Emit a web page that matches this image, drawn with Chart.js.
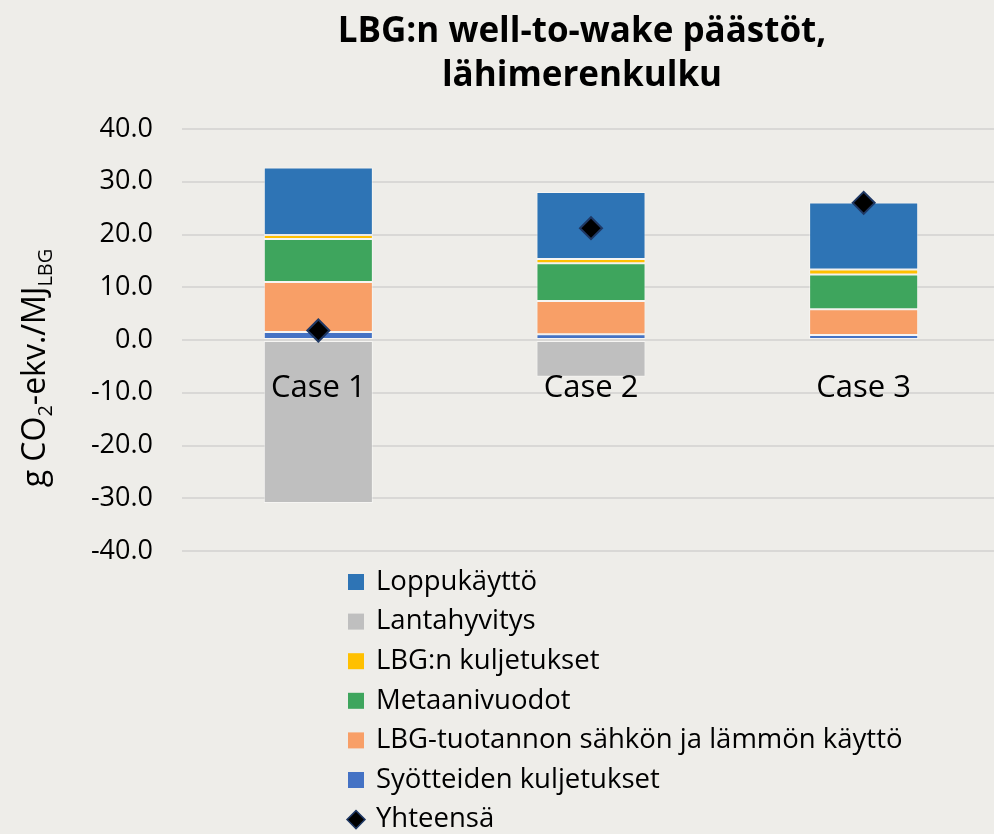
<!DOCTYPE html>
<html>
<head>
<meta charset="utf-8">
<script src="https://cdn.jsdelivr.net/npm/chart.js@4"></script>
<style>
  html, body { margin: 0; padding: 0; background: #eeede9; overflow: hidden; }
  #wrap { width: 994px; height: 834px; overflow: hidden; }
</style>
</head>
<body>
<div id="wrap"><canvas id="myChart" width="1000" height="834"></canvas></div>
<script>
const cases = ["Case 1", "Case 2", "Case 3"];
const syotteidenKuljetukset = [1.5, 1.1, 0.95];
const tuotannonEnergia = [9.5, 6.3, 4.9];
const metaanivuodot = [8.15, 7.15, 6.55];
const lbgKuljetukset = [0.75, 0.8, 0.95];
const lantahyvitys = [-30.9, -6.95, 0];
const loppukaytto = [12.8, 12.7, 12.7];
const yhteensa = [1.8, 21.2, 26.0];
const yTicks = [-40, -30, -20, -10, 0, 10, 20, 30, 40];

const FONT = '"Open Sans", Lato, sans-serif';
const legendOrder = [5, 4, 3, 2, 1, 0, 6];

const bg = {
    id: 'bg',
    beforeDraw(chart) {
        const c = chart.ctx;
        c.save();
        c.fillStyle = '#eeede9';
        c.fillRect(0, 0, chart.width, chart.height);
        c.restore();
    }
};

const extras = {
    id: 'extras',
    afterDraw(chart) {
        const c = chart.ctx;
        const x = chart.scales.x, y = chart.scales.y;
        c.save();
        c.fillStyle = '#000';

        // title
        c.font = 'bold 35px ' + FONT;
        c.textAlign = 'center';
        c.textBaseline = 'middle';
        c.fillText('LBG:n well-to-wake päästöt,', 582, 32);
        c.fillText('lähimerenkulku', 582, 76);

        // category labels near zero line
        c.font = '31px ' + FONT;
        cases.forEach((lab, i) => {
            c.fillText(lab, x.getPixelForValue(i), y.getPixelForValue(0) + 48);
        });

        // y axis title with subscripts
        c.save();
        c.translate(45, 368);
        c.rotate(-Math.PI / 2);
        c.textBaseline = 'alphabetic';
        c.textAlign = 'left';
        const big = '32px ' + FONT, small = '20px ' + FONT;
        const parts = [['g CO', big, 0], ['2', small, 7], ['-ekv./MJ', big, 0], ['LBG', small, 7]];
        let w = 0;
        parts.forEach(p => { c.font = p[1]; w += c.measureText(p[0]).width; });
        let px = -w / 2;
        parts.forEach(p => {
            c.font = p[1];
            c.fillText(p[0], px, p[2]);
            px += c.measureText(p[0]).width;
        });
        c.restore();

        // legend
        c.font = '27.5px ' + FONT;
        c.textAlign = 'left';
        c.textBaseline = 'middle';
        legendOrder.forEach((di, k) => {
            const ds = chart.data.datasets[di];
            const ly = 582 + k * 39.6;
            if (ds.type === 'line') {
                c.beginPath();
                c.moveTo(347, ly); c.lineTo(356, ly - 9); c.lineTo(365, ly); c.lineTo(356, ly + 9);
                c.closePath();
                c.fillStyle = '#000';
                c.fill();
                c.strokeStyle = '#1f3864';
                c.lineWidth = 1.5;
                c.stroke();
            } else {
                c.fillStyle = ds.backgroundColor;
                c.fillRect(348, ly - 8, 16, 16);
            }
            c.fillStyle = '#000';
            c.fillText(ds.label, 376, ly);
        });
        c.restore();
    }
};

function barSet(label, data, color) {
    return {
        label: label,
        data: data,
        backgroundColor: color,
        borderColor: 'rgba(255,255,255,0.45)',
        borderWidth: 1,
        borderSkipped: false,
        categoryPercentage: 1,
        barPercentage: 0.4
    };
}

const ctx = document.getElementById('myChart').getContext('2d');
const myChart = new Chart(ctx, {
    type: 'bar',
    data: {
        labels: cases,
        datasets: [
            barSet('Syötteiden kuljetukset', syotteidenKuljetukset, '#4472c4'),
            barSet('LBG-tuotannon sähkön ja lämmön käyttö', tuotannonEnergia, '#f89f67'),
            barSet('Metaanivuodot', metaanivuodot, '#3ea55d'),
            barSet('LBG:n kuljetukset', lbgKuljetukset, '#ffc000'),
            barSet('Lantahyvitys', lantahyvitys, '#bfbfbf'),
            barSet('Loppukäyttö', loppukaytto, '#2e74b5'),
            {
                type: 'line',
                label: 'Yhteensä',
                data: yhteensa,
                stack: 'total',
                order: -1,
                showLine: false,
                pointStyle: 'rectRot',
                pointRadius: 11,
                pointHoverRadius: 11,
                pointBackgroundColor: '#000',
                pointBorderColor: '#1f3864',
                pointBorderWidth: 2
            }
        ]
    },
    options: {
        responsive: false,
        animation: false,
        layout: { autoPadding: false, padding: { top: 129, bottom: 283, left: 0, right: 0 } },
        plugins: {
            legend: { display: false },
            title: { display: false },
            tooltip: { enabled: false }
        },
        scales: {
            x: {
                stacked: true,
                display: false
            },
            y: {
                stacked: true,
                min: -40,
                max: 40,
                afterFit(scale) { scale.width = 182; },
                afterBuildTicks(scale) { scale.ticks = yTicks.map(v => ({ value: v })); },
                ticks: {
                    padding: 29,
                    color: '#000',
                    font: { family: FONT, size: 27 },
                    callback: v => v.toFixed(1)
                },
                grid: { color: '#d9d8d6', lineWidth: 2, drawTicks: false },
                border: { display: false }
            }
        }
    },
    plugins: [bg, extras]
});
</script>
</body>
</html>
